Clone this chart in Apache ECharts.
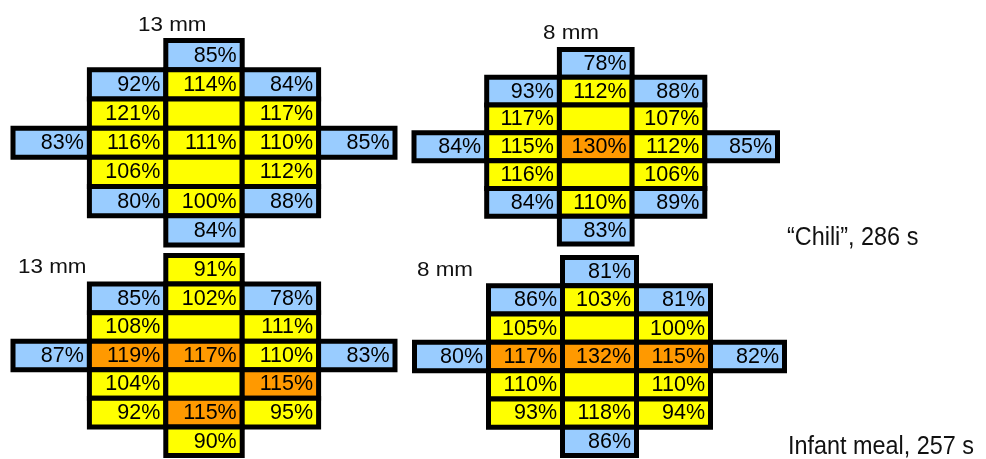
<!DOCTYPE html>
<html>
<head>
<meta charset="utf-8">
<script src="https://cdn.jsdelivr.net/npm/echarts@6/dist/echarts.min.js"></script>
<style>
html,body{margin:0;padding:0;background:#fff;}
#chart{width:986px;height:459px;}
</style>
</head>
<body>
<div id="chart"></div>
<script>
// ---------- DATA ----------
const colKeys = ['C1', 'C2', 'C3', 'C4', 'C5'];
const rowKeys = ['R1', 'R2', 'R3', 'R4', 'R5', 'R6', 'R7'];

// values per cell ('' = coloured cell without number, null = no cell)
const chili13Values = [
  [null, null, 85, null, null],
  [null, 92, 114, 84, null],
  [null, 121, '', 117, null],
  [83, 116, 111, 110, 85],
  [null, 106, '', 112, null],
  [null, 80, 100, 88, null],
  [null, null, 84, null, null]
];
const chili13Classes = ['..B..', '.BYB.', '.YYY.', 'BYYYB', '.YYY.', '.BYB.', '..B..'];

const chili8Values = [
  [null, null, 78, null, null],
  [null, 93, 112, 88, null],
  [null, 117, '', 107, null],
  [84, 115, 130, 112, 85],
  [null, 116, '', 106, null],
  [null, 84, 110, 89, null],
  [null, null, 83, null, null]
];
const chili8Classes = ['..B..', '.BYB.', '.YYY.', 'BYOYB', '.YYY.', '.BYB.', '..B..'];

const infant13Values = [
  [null, null, 91, null, null],
  [null, 85, 102, 78, null],
  [null, 108, '', 111, null],
  [87, 119, 117, 110, 83],
  [null, 104, '', 115, null],
  [null, 92, 115, 95, null],
  [null, null, 90, null, null]
];
const infant13Classes = ['..Y..', '.BYB.', '.YYY.', 'BOOYB', '.YYO.', '.YOY.', '..Y..'];

const infant8Values = [
  [null, null, 81, null, null],
  [null, 86, 103, 81, null],
  [null, 105, '', 100, null],
  [80, 117, 132, 115, 82],
  [null, 110, '', 110, null],
  [null, 93, 118, 94, null],
  [null, null, 86, null, null]
];
const infant8Classes = ['..B..', '.BYB.', '.YYY.', 'BOOOB', '.YYY.', '.YYY.', '..B..'];

const panelTitles = ['13 mm', '8 mm', '13 mm', '8 mm'];
const mealLabels = ['\u201cChili\u201d, 286 s', 'Infant meal, 257 s'];

// ---------- STYLE / LAYOUT ----------
const classColors = { B: '#99CCFF', Y: '#FFFF00', O: '#FF9900' };
const FONT = '"Liberation Sans", Arial, sans-serif';

const panels = [
  { values: chili13Values, classes: chili13Classes, grid: { left: 13, top: 40.5, width: 382, height: 204.5 } },
  { values: chili8Values, classes: chili8Classes, grid: { left: 414, top: 49.5, width: 363.5, height: 194.5 } },
  { values: infant13Values, classes: infant13Classes, grid: { left: 13, top: 255.5, width: 382, height: 200 } },
  { values: infant8Values, classes: infant8Classes, grid: { left: 414.5, top: 257.5, width: 370, height: 198 } }
];

function buildCells(values, classes) {
  const cells = [];
  values.forEach((row, r) => {
    row.forEach((v, c) => {
      const cls = classes[r][c];
      if (v === null || cls === '.') return;
      cells.push({ value: [c, r], text: v === '' ? '' : v + '%', color: classColors[cls] });
    });
  });
  return cells;
}

const grids = [], xAxes = [], yAxes = [], series = [];
panels.forEach((p, i) => {
  grids.push(Object.assign({ containLabel: false }, p.grid));
  xAxes.push({ type: 'category', data: colKeys, gridIndex: i, show: false, boundaryGap: true });
  yAxes.push({ type: 'category', data: rowKeys, gridIndex: i, show: false, inverse: true, boundaryGap: true });
  const cells = buildCells(p.values, p.classes);
  series.push({
    type: 'custom',
    xAxisIndex: i,
    yAxisIndex: i,
    silent: true,
    animation: false,
    data: cells.map(c => c.value),
    renderItem: function (params, api) {
      const cell = cells[params.dataIndex];
      const center = api.coord([api.value(0), api.value(1)]);
      const size = api.size([1, 1]);
      const x0 = center[0] - size[0] / 2;
      const y0 = center[1] - size[1] / 2;
      return {
        type: 'group',
        children: [
          {
            type: 'rect',
            shape: { x: x0, y: y0, width: size[0], height: size[1] },
            style: { fill: cell.color, stroke: '#000', lineWidth: 5 }
          },
          {
            type: 'text',
            x: x0 + size[0] - 5.5,
            y: center[1] + 0.5,
            style: {
              text: cell.text,
              fontSize: 21.5,
              fontFamily: FONT,
              fill: '#000',
              align: 'right',
              verticalAlign: 'middle'
            }
          }
        ]
      };
    }
  });
});

const titlePos = [[138, 25], [543, 33], [18, 267], [417, 270]];
const graphics = panelTitles.map((t, i) => ({
  type: 'text',
  x: titlePos[i][0],
  y: titlePos[i][1],
  scaleX: 1.12,
  style: { text: t, fontSize: 20, fontFamily: FONT, fill: '#111', align: 'left', verticalAlign: 'middle' }
}));
const mealPos = [[787, 238], [788, 447]];
mealLabels.forEach((t, i) => {
  graphics.push({
    type: 'text',
    x: mealPos[i][0],
    y: mealPos[i][1],
    scaleX: 0.9,
    style: { text: t, fontSize: 26, fontFamily: FONT, fill: '#111', align: 'left', verticalAlign: 'middle' }
  });
});

const chart = echarts.init(document.getElementById('chart'), null, { renderer: 'canvas' });
chart.setOption({
  backgroundColor: '#fff',
  animation: false,
  grid: grids,
  xAxis: xAxes,
  yAxis: yAxes,
  series: series,
  graphic: graphics
});
</script>
</body>
</html>
